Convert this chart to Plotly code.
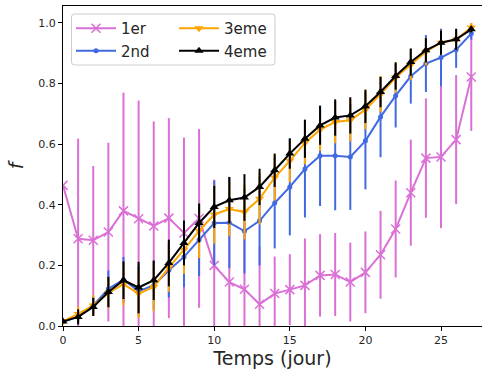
import plotly.graph_objects as go

days = list(range(28))

s1_name = "1er"
s1_val = [0.464, 0.288, 0.283, 0.31, 0.38, 0.354, 0.33, 0.356, 0.307, 0.355,
          0.2, 0.145, 0.121, 0.072, 0.107, 0.12, 0.134, 0.167, 0.17, 0.145,
          0.177, 0.235, 0.32, 0.44, 0.554, 0.558, 0.615, 0.822]
s1_err = [0.0, 0.33, 0.245, 0.295, 0.39, 0.39, 0.345, 0.33, 0.315, 0.295,
          0.283, 0.25, 0.22, 0.19, 0.122, 0.117, 0.155, 0.136, 0.137, 0.13,
          0.135, 0.145, 0.16, 0.175, 0.197, 0.235, 0.213, 0.178]

s2_name = "2nd"
s2_val = [0.015, 0.03, 0.068, 0.123, 0.153, 0.115, 0.134, 0.184, 0.228, 0.285,
          0.34, 0.341, 0.313, 0.347, 0.406, 0.459, 0.518, 0.562, 0.562, 0.558,
          0.611, 0.69, 0.76, 0.824, 0.866, 0.886, 0.912, 0.965]
s2_err = [0.0, 0.02, 0.03, 0.06, 0.075, 0.08, 0.08, 0.09, 0.1, 0.12,
          0.14, 0.15, 0.14, 0.147, 0.15, 0.16, 0.16, 0.166, 0.18, 0.175,
          0.16, 0.133, 0.105, 0.09, 0.094, 0.095, 0.06, 0.02]

s3_name = "3eme"
s3_val = [0.015, 0.04, 0.068, 0.109, 0.138, 0.107, 0.129, 0.193, 0.252, 0.314,
          0.368, 0.386, 0.376, 0.42, 0.49, 0.545, 0.604, 0.648, 0.673, 0.679,
          0.714, 0.765, 0.82, 0.862, 0.905, 0.935, 0.945, 0.985]
s3_err = [0.0, 0.025, 0.035, 0.05, 0.07, 0.08, 0.08, 0.08, 0.08, 0.09,
          0.096, 0.09, 0.09, 0.085, 0.076, 0.07, 0.07, 0.07, 0.07, 0.07,
          0.065, 0.06, 0.05, 0.05, 0.045, 0.04, 0.035, 0.015]

s4_name = "4eme"
s4_val = [0.015, 0.03, 0.063, 0.112, 0.151, 0.127, 0.151, 0.208, 0.274, 0.34,
          0.393, 0.415, 0.424, 0.459, 0.514, 0.569, 0.618, 0.662, 0.688, 0.695,
          0.725, 0.772, 0.825, 0.871, 0.91, 0.935, 0.946, 0.979]
s4_err = [0.0, 0.025, 0.03, 0.05, 0.062, 0.085, 0.065, 0.077, 0.074, 0.064,
          0.07, 0.077, 0.077, 0.06, 0.055, 0.05, 0.063, 0.064, 0.06, 0.06,
          0.055, 0.05, 0.045, 0.045, 0.04, 0.04, 0.035, 0.01]

y_ticks = [0.0, 0.2, 0.4, 0.6, 0.8, 1.0]
x_ticks = [0, 5, 10, 15, 20, 25]

FONT = "DejaVu Sans"
W, H = 482, 369
ML, MR, MT, MB = 63, 0, 6, 43
PW, PH = W - ML - MR, H - MT - MB

def px_x(p):
    return (p - ML) / PW

def px_y(p):
    return 1 - (p - MT) / PH

series = [
    (s1_name, s1_val, s1_err, "#DA70D6", dict(symbol="x-thin", size=9, line=dict(width=1.5, color="#DA70D6")), "legend"),
    (s2_name, s2_val, s2_err, "#4169E1", dict(symbol="circle", size=5), "legend"),
    (s3_name, s3_val, s3_err, "#FFA500", dict(symbol="triangle-down", size=8), "legend2"),
    (s4_name, s4_val, s4_err, "#000000", dict(symbol="triangle-up", size=8), "legend2"),
]

fig = go.Figure()
for name, vals, errs, color, mk, lg in series:
    mk = dict(mk)
    mk["color"] = color
    fig.add_trace(go.Scatter(
        x=days, y=vals, name=name, mode="lines+markers",
        line=dict(color=color, width=2),
        marker=mk,
        error_y=dict(type="data", array=errs, visible=True, color=color,
                     thickness=2, width=0),
        legend=lg,
    ))

# legend frame (rounded)
x0, x1 = px_x(71.5), px_x(275)
y0, y1 = px_y(65), px_y(14)
rx, ry = 3 / PW, 3 / PH
path = (f"M{x0+rx},{y1} L{x1-rx},{y1} Q{x1},{y1} {x1},{y1-ry} "
        f"L{x1},{y0+ry} Q{x1},{y0} {x1-rx},{y0} L{x0+rx},{y0} "
        f"Q{x0},{y0} {x0},{y0+ry} L{x0},{y1-ry} Q{x0},{y1} {x0+rx},{y1} Z")
fig.add_shape(type="path", path=path, xref="paper", yref="paper",
              line=dict(color="#cccccc", width=1),
              fillcolor="rgba(255,255,255,0.8)", layer="above")

axis_common = dict(
    showline=True, linecolor="black", linewidth=1,
    ticks="outside", ticklen=4, tickwidth=1, tickcolor="black",
    showgrid=False, zeroline=False, automargin=False,
    tickfont=dict(family=FONT, size=11, color="#262626"),
)

fig.update_layout(
    width=W, height=H,
    margin=dict(l=ML, r=MR, t=MT, b=MB, autoexpand=False),
    plot_bgcolor="white", paper_bgcolor="white",
    font=dict(family=FONT, color="black"),
    xaxis=dict(range=[0, 27.71], tickvals=x_ticks, mirror=True,
               title=dict(text="Temps (jour)", font=dict(family=FONT, size=19, color="#262626"), standoff=2),
               **axis_common),
    yaxis=dict(range=[0, 1.056], tickvals=y_ticks, tickformat=".1f",
               title=dict(text="<i>f</i>", font=dict(family=FONT, size=19, color="#262626"), standoff=9),
               **axis_common),
    legend=dict(x=px_x(71), y=px_y(12), xanchor="left", yanchor="top",
                bgcolor="rgba(0,0,0,0)", borderwidth=0, itemwidth=40,
                font=dict(family=FONT, size=15, color="#262626"),
                tracegroupgap=0),
    legend2=dict(x=px_x(174), y=px_y(12), xanchor="left", yanchor="top",
                 bgcolor="rgba(0,0,0,0)", borderwidth=0, itemwidth=40,
                 font=dict(family=FONT, size=15, color="#262626"),
                 tracegroupgap=0),
    showlegend=True,
)

fig.write_html("out.html",
               config={"displayModeBar": False},
               post_script="document.body.style.margin='0';document.body.style.overflow='hidden';")
